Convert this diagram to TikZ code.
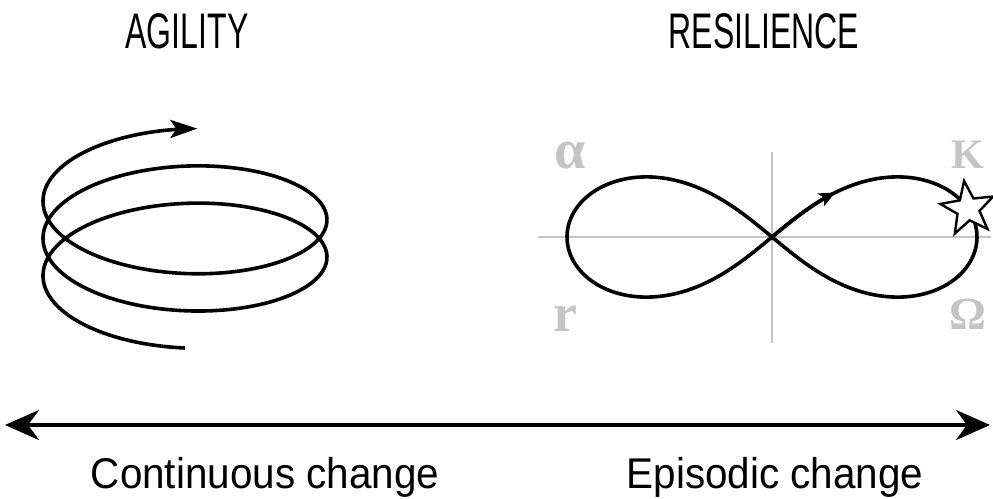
\documentclass[tikz,border=0pt]{standalone}
\usepackage{fontspec}
\setmainfont{Liberation Sans}
\newfontfamily\headfont{Liberation Sans}[FakeStretch=0.64]
\newfontfamily\axisfont{Liberation Sans}[FakeStretch=0.94]
\newfontfamily\phasefont{Liberation Serif}
\usetikzlibrary{arrows.meta, shapes.geometric}
\definecolor{phasegrey}{RGB}{196,196,196}

\begin{document}
\begin{tikzpicture}[x=1pt, y=-1pt,
  title/.style={font=\headfont\fontsize{50}{54}\selectfont, anchor=base, inner sep=0pt},
  axislabel/.style={font=\axisfont\fontsize{43}{47}\selectfont, anchor=base, inner sep=0pt},
  phase/.style={text=phasegrey, anchor=base, inner sep=0pt},
  curve/.style={line width=3.6pt, line join=round},
  guide/.style={draw=phasegrey, line width=2pt},
  axis/.style={{Stealth[length=34pt,width=30pt,inset=11pt]}-{Stealth[length=34pt,width=30pt,inset=11pt]}, line width=3.4pt}
]
  \useasboundingbox (0,0) rectangle (993,498);

  \node[title] (agility)    at (187,48) {AGILITY};
  \node[title] (resilience) at (764,48) {RESILIENCE};

  % helix
  \draw[curve, -{Stealth[length=27pt,width=18pt,inset=6pt]}]
    plot[domain=90:995, samples=240, smooth, variable=\t]
      ({185+142*cos(\t)}, {285-0.10347*(\t-90)+63*sin(\t)});

  % adaptive cycle
  \draw[guide] (538,237) -- (991,237);
  \draw[guide] (772,152) -- (772,343);
  \node[phase, font=\phasefont\bfseries\fontsize{56}{60}\selectfont] (alpha)  at (570,168) {α};
  \node[phase, font=\phasefont\bfseries\fontsize{42}{46}\selectfont] (kphase) at (968,168) {K};
  \node[phase, font=\phasefont\bfseries\fontsize{54}{58}\selectfont] (rphase) at (565,331) {r};
  \node[phase, font=\phasefont\bfseries\fontsize{46}{50}\selectfont] (omega)  at (968,329) {Ω};
  \draw[curve] plot[domain=0:360, samples=240, smooth cycle, variable=\s]
    ({772+205*sin(\s)/(1+cos(\s)*cos(\s))}, {237-170*cos(\s)*sin(\s)/(1+cos(\s)*cos(\s))});
  \draw[curve, -{Stealth[length=16pt,width=14pt,inset=4pt]}]
    plot[domain=0:32, samples=20, smooth, variable=\s]
    ({772+205*sin(\s)/(1+cos(\s)*cos(\s))}, {237-170*cos(\s)*sin(\s)/(1+cos(\s)*cos(\s))});
  \coordinate (collapse) at ({772+205*sin(80)/(1+cos(80)*cos(80))}, {237-170*cos(80)*sin(80)/(1+cos(80)*cos(80))});
  \node[star, star points=5, star point ratio=2.4, minimum size=56pt, inner sep=0pt,
        draw, fill=white, line width=2.4pt, rotate=8] (shock) at (collapse) {};

  % change axis
  \coordinate (contL) at (5,425);
  \coordinate (epiR)  at (990,425);
  \draw[axis] (contL) -- (epiR);
  \node[axislabel] (continuous) at (265,488) {Continuous change};
  \node[axislabel] (episodic)   at (775,488) {Episodic change};
\end{tikzpicture}
\end{document}
